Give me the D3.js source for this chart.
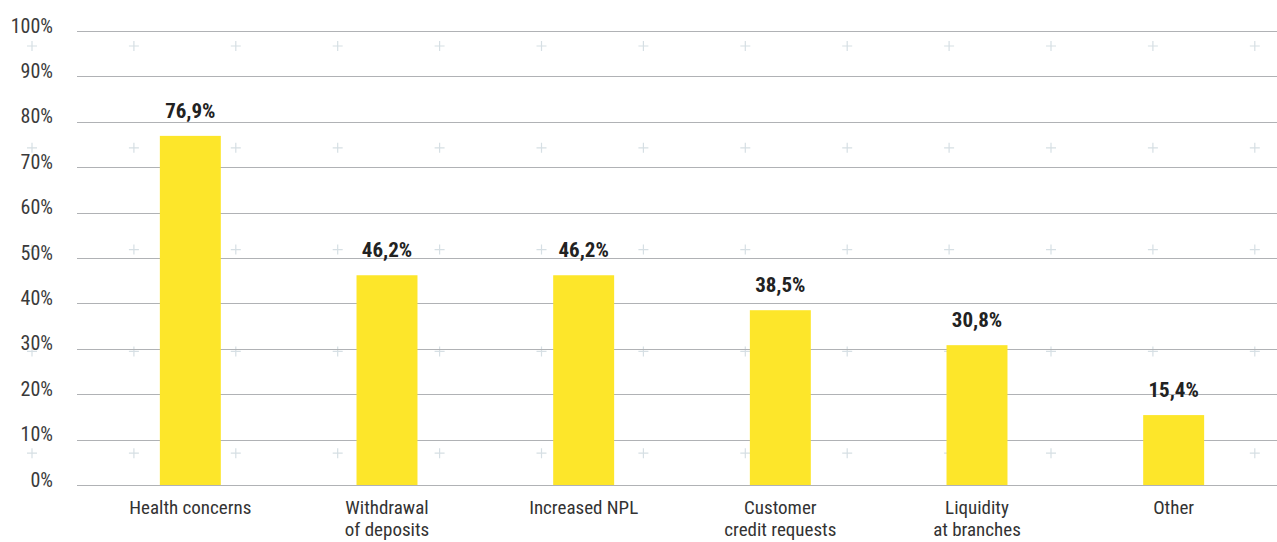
<!DOCTYPE html>
<html>
<head>
	<meta charset="utf-8">
	<title>D3</title>
	<script src="https://d3js.org/d3.v7.min.js"></script>
	<style>
		html, body {
			margin: 0;
			background: #fff;
			overflow: hidden;
		}
		text {
			font-family: "Liberation Sans Narrow", "Roboto Condensed", "Liberation Sans", Arial, sans-serif;
		}
	</style>
</head>
<body>
	<svg id="svg"></svg>
	<script>
		const categories = [
			["Health concerns"],
			["Withdrawal", "of deposits"],
			["Increased NPL"],
			["Customer", "credit requests"],
			["Liquidity", "at branches"],
			["Other"]
		];
		const values = [76.9, 46.2, 46.2, 38.5, 30.8, 15.4];
		const tickValues = [0, 10, 20, 30, 40, 50, 60, 70, 80, 90, 100];

		const width = 1277, height = 542;
		const margins = { top: 31, left: 77, right: 0, bottom: 57 };

		const svg = d3.select("#svg")
		.attr("width", width)
		.attr("height", height);

		const scaleX = d3.scaleBand()
		.domain(d3.range(categories.length))
		.range([92, 1272])
		.paddingInner(0.69)
		.paddingOuter(0.345);

		const scaleY = d3.scaleLinear()
		.domain([0, 100])
		.range([height - margins.bottom, margins.top]);

		// faint cross decorations in the background
		const crossX = d3.range(13).map(i => 32 + i * 101.9);
		const crossY = d3.range(5).map(i => 46 + i * 101.8);
		const crosses = svg.append("g")
		.attr("stroke", "#d6dfe4")
		.attr("stroke-width", 1.2);
		crossY.forEach(cy => {
			crossX.forEach(cx => {
				crosses.append("path")
				.attr("d", `M${cx - 5},${cy}H${cx + 5}M${cx},${cy - 5}V${cy + 5}`);
			});
		});

		// gridlines
		svg.append("g")
		.selectAll("line")
		.data(tickValues)
		.enter()
		.append("line")
		.attr("x1", margins.left)
		.attr("x2", width - margins.right)
		.attr("y1", d => Math.round(scaleY(d)) + 0.5)
		.attr("y2", d => Math.round(scaleY(d)) + 0.5)
		.attr("stroke", "#b0b2b5")
		.attr("stroke-width", 1);

		// y tick labels
		const yAxis = svg.append("g")
		.attr("transform", `translate(53, 0)`)
		.call(d3.axisLeft(scaleY).tickValues(tickValues).tickSize(0).tickFormat(d => d + "%"));
		yAxis.select(".domain").remove();
		yAxis.selectAll("text")
		.attr("x", 0)
		.attr("y", 1)
		.attr("dy", 0)
		.attr("fill", "#3a3a3a")
		.style("font-size", "20px");

		// bars
		svg.append("g")
		.selectAll("rect")
		.data(values)
		.enter()
		.append("rect")
		.attr("x", (d, i) => scaleX(i))
		.attr("width", scaleX.bandwidth())
		.attr("y", d => scaleY(d))
		.attr("height", d => scaleY(0) - scaleY(d))
		.attr("fill", "#fde62a");

		// value labels
		svg.append("g")
		.selectAll("text")
		.data(values)
		.enter()
		.append("text")
		.attr("x", (d, i) => scaleX(i) + scaleX.bandwidth() / 2)
		.attr("y", d => scaleY(d) - 18)
		.attr("text-anchor", "middle")
		.attr("fill", "#222")
		.style("font-size", "21px")
		.style("font-weight", "bold")
		.text(d => d.toFixed(1).replace(".", ",") + "%");

		// category labels
		const catLabels = svg.append("g")
		.selectAll("text")
		.data(categories)
		.enter()
		.append("text")
		.attr("x", (d, i) => scaleX(i) + scaleX.bandwidth() / 2)
		.attr("y", 514)
		.attr("text-anchor", "middle")
		.attr("fill", "#333")
		.style("font-size", "19px");
		catLabels.selectAll("tspan")
		.data((d, i) => d.map(line => ({ line, i })))
		.enter()
		.append("tspan")
		.attr("x", d => scaleX(d.i) + scaleX.bandwidth() / 2)
		.attr("dy", (d, j) => j === 0 ? 0 : 22)
		.text(d => d.line);
	</script>
</body>
</html>
